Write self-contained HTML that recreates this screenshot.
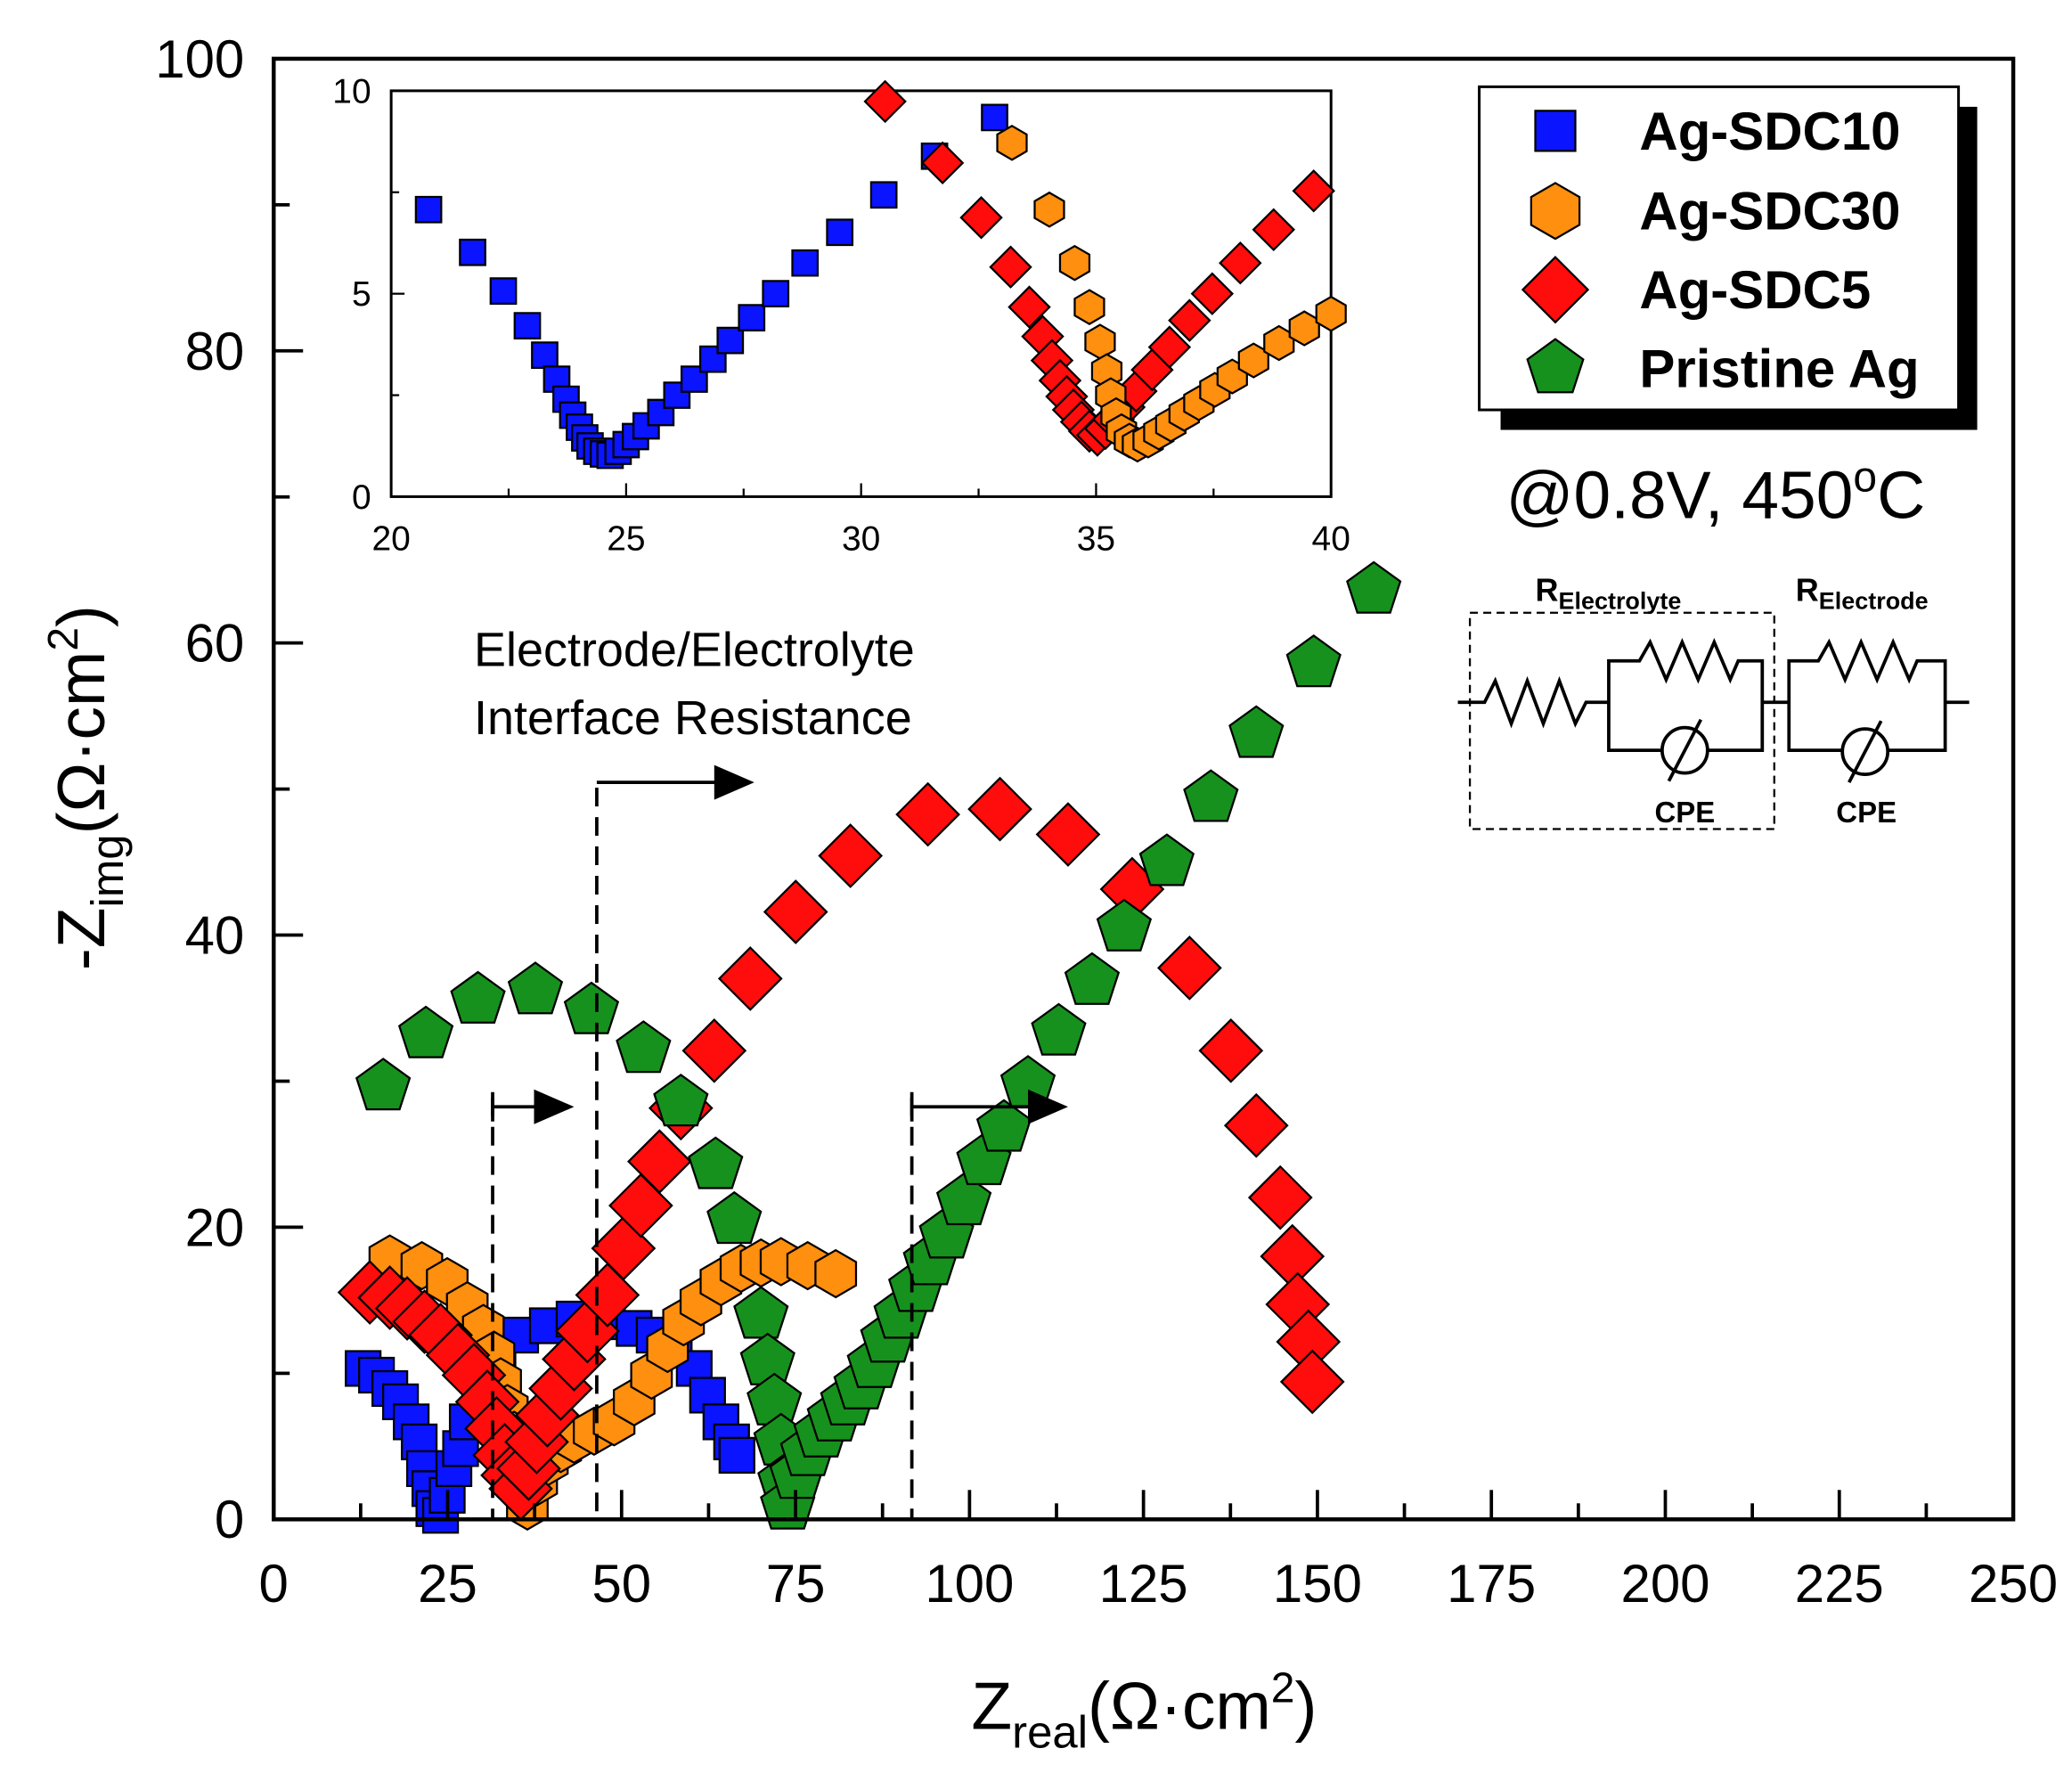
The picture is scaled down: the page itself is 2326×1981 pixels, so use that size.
<!DOCTYPE html>
<html><head><meta charset="utf-8"><style>html,body{margin:0;padding:0;background:#fff}svg{display:block}text{font-family:"Liberation Sans",sans-serif}</style></head>
<body>
<svg id="s" width="2326" height="1981" viewBox="0 0 1552 1322" preserveAspectRatio="none" xmlns="http://www.w3.org/2000/svg">
<rect x="0" y="0" width="1552" height="1322" fill="#fff"/>
<g id="data"></g>
<!-- main axes -->
<rect x="205" y="44" width="1303" height="1094" fill="none" stroke="#000" stroke-width="3"/>
<g id="ticks" stroke="#000" stroke-width="2.5"></g>
<g font-size="40" fill="#000" id="labels"></g>
<text x="857" y="1295" font-size="50" text-anchor="middle">Z<tspan font-size="34" dy="14">real</tspan><tspan dy="-14">(Ω·cm</tspan><tspan font-size="32" dy="-20">2</tspan><tspan dy="20">)</tspan></text>
<text transform="translate(78,590) rotate(-90)" font-size="50" text-anchor="middle">-Z<tspan font-size="34" dy="14">img</tspan><tspan dy="-14">(Ω·cm</tspan><tspan font-size="32" dy="-20">2</tspan><tspan dy="20">)</tspan></text>
<!-- inset -->
<rect x="293" y="68" width="704" height="304" fill="#fff" stroke="#000" stroke-width="2"/>
<g id="inset"></g>
<!-- annotations -->
<text x="355" y="499" font-size="36">Electrode/Electrolyte</text>
<text x="355" y="550" font-size="36">Interface Resistance</text>
<g stroke="#000" stroke-width="2.5" fill="none">
<line x1="447" y1="590" x2="447" y2="1138" stroke-dasharray="14,8"/>
<line x1="369" y1="822" x2="369" y2="1138" stroke-dasharray="14,8"/>
<line x1="683" y1="822" x2="683" y2="1138" stroke-dasharray="14,8"/>
<line x1="447" y1="586" x2="540" y2="586"/>
<line x1="369" y1="829" x2="405" y2="829"/>
<line x1="683" y1="829" x2="775" y2="829"/>
<line x1="369" y1="818" x2="369" y2="840"/>
<line x1="683" y1="818" x2="683" y2="840"/>
</g>
<polygon points="535,573 565,586 535,599" fill="#000"/>
<polygon points="400,816 430,829 400,842" fill="#000"/>
<polygon points="770,816 800,829 770,842" fill="#000"/>
<!-- legend -->
<rect x="1124" y="80" width="357" height="242" fill="#000"/>
<rect x="1108" y="65" width="359" height="242" fill="#fff" stroke="#000" stroke-width="2"/>
<g id="leg"></g>
<g font-size="40" font-weight="bold">
<text x="1228" y="112">Ag-SDC10</text>
<text x="1228" y="172">Ag-SDC30</text>
<text x="1228" y="231">Ag-SDC5</text>
<text x="1228" y="290">Pristine Ag</text>
</g>
<text x="1285" y="388" font-size="50" text-anchor="middle">@0.8V, 450<tspan font-size="32" dy="-20">o</tspan><tspan dy="20">C</tspan></text>
<!-- circuit -->
<g stroke="#000" stroke-width="2.5" fill="none">
<rect x="1101" y="459" width="228" height="162" stroke-dasharray="6,4" stroke-width="1.5"/>
<polyline points="1092,526 1112,526 1120,510 1132,542 1144,510 1156,542 1168,510 1180,542 1188,526 1205,526"/>
<polyline points="1205,526 1205,495 1228,495 1236,481 1248,509 1260,481 1272,509 1284,481 1296,509 1302,495 1320,495 1320,562 1205,562 1205,526"/>
<line x1="1320" y1="526" x2="1340" y2="526"/>
<polyline points="1340,526 1340,495 1362,495 1370,481 1382,509 1394,481 1406,509 1418,481 1430,509 1436,495 1457,495 1457,562 1340,562 1340,526"/>
<line x1="1457" y1="526" x2="1475" y2="526"/>
<circle cx="1262" cy="562" r="17" fill="#fff"/>
<line x1="1250" y1="585" x2="1274" y2="539"/>
<circle cx="1397" cy="563" r="17" fill="#fff"/>
<line x1="1385" y1="586" x2="1409" y2="540"/>
</g>
<g font-weight="bold" font-size="24">
<text x="1150" y="450">R<tspan font-size="18" dy="6">Electrolyte</tspan></text>
<text x="1345" y="450">R<tspan font-size="18" dy="6">Electrode</tspan></text>
<text x="1262" y="616" text-anchor="middle" font-size="22">CPE</text>
<text x="1398" y="616" text-anchor="middle" font-size="22">CPE</text>
</g>
</svg>
<script>
const NS="http://www.w3.org/2000/svg";
function el(p,t,a){const e=document.createElementNS(NS,t);for(const k in a)e.setAttribute(k,a[k]);p.appendChild(e);return e;}
const C={b:"#0a14ff",o:"#ff8f0f",r:"#ff0d0d",g:"#17911d"};
function poly(n,r,rot){let p=[];for(let i=0;i<n;i++){const a=rot+i*2*Math.PI/n;p.push([r*Math.cos(a),r*Math.sin(a)]);}return p;}
function marker(g,type,x,y,s){
 let pts;
 if(type=="b")pts=[[-s/2,-s/2],[s/2,-s/2],[s/2,s/2],[-s/2,s/2]];
 else if(type=="r")pts=poly(4,s*0.58,-Math.PI/2);
 else if(type=="o")pts=poly(6,s*0.55,-Math.PI/2);
 else pts=poly(5,s*0.55,-Math.PI/2);
 el(g,"polygon",{points:pts.map(p=>(x+p[0]).toFixed(1)+","+(y+p[1]).toFixed(1)).join(" "),fill:C[type],stroke:"#000","stroke-width":1.5});
}
const D=document.getElementById("data");
const blue=[[272,1025],[282,1030],[292,1040],[300,1050],[308,1065],[314,1080],[318,1100],[322,1115],[325,1130],[330,1135],[335,1120],[340,1100],[345,1085],[350,1065],[360,1040],[373,1015],[390,1000],[410,993],[430,988],[455,990],[475,995],[490,1000],[505,1010],[520,1025],[530,1045],[540,1065],[548,1080],[552,1090]];
const orange=[[292,943],[316,948],[335,960],[350,978],[362,995],[370,1015],[375,1035],[380,1055],[385,1075],[390,1095],[393,1115],[395,1128],[402,1110],[410,1095],[420,1085],[430,1078],[445,1072],[460,1065],[475,1050],[488,1030],[500,1010],[512,990],[525,975],[540,960],[555,950],[570,946],[585,945],[605,948],[626,954]];
const red=[[277,968],[292,972],[305,980],[318,990],[330,1000],[343,1015],[355,1030],[365,1050],[372,1070],[378,1090],[384,1105],[390,1115],[396,1100],[402,1080],[410,1060],[420,1040],[430,1018],[440,997],[455,970],[467,935],[480,903],[494,870],[510,830],[535,787],[562,733],[596,683],[637,641],[695,610],[749,606],[800,625],[848,666],[891,725],[922,787],[941,843],[959,897],[968,941],[972,977],[980,1005],[983,1035]];
const green=[[287,814],[319,775],[358,749],[401,742],[443,757],[482,786],[510,826],[536,873],[550,914],[570,985],[575,1020],[580,1050],[585,1080],[588,1110],[590,1128],[597,1105],[605,1088],[615,1074],[625,1062],[635,1050],[645,1038],[655,1022],[665,1003],[675,985],[686,965],[697,945],[709,925],[722,900],[737,870],[752,845],[770,812],[793,773],[818,735],[842,695],[874,646],[907,598],[941,550],[984,497],[1029,442]];
blue.forEach(p=>marker(D,"b",p[0],p[1],26));
orange.forEach(p=>marker(D,"o",p[0],p[1],32));
red.forEach(p=>marker(D,"r",p[0],p[1],40));
green.forEach(p=>marker(D,"g",p[0],p[1],38));
// ticks
const T=document.getElementById("ticks"),L=document.getElementById("labels");
for(let v=0;v<=250;v+=12.5){const x=205+v*5.212;const maj=v%25==0;el(T,"line",{x1:x,y1:1138,x2:x,y2:1138-(maj?22:12)});
 if(maj){const t=el(L,"text",{x:x,y:1200,"text-anchor":"middle"});t.textContent=v;}}
for(let v=0;v<=100;v+=10){const y=1138-v*10.94;const maj=v%20==0;el(T,"line",{x1:205,y1:y,x2:205+(maj?22:12),y2:y});
 if(maj){const t=el(L,"text",{x:183,y:y+14,"text-anchor":"end"});t.textContent=v;}}
// inset
const I=document.getElementById("inset");
const ib=[[321,157],[354,189],[377,218],[395,244],[408,266],[417,284],[424,299],[429,311],[434,320],[438,328],[442,334],[447,338],[452,340],[457,341],[463,338],[469,333],[476,327],[484,319],[495,309],[507,296],[520,284],[534,269],[547,255],[563,238],[581,220],[603,197],[629,174],[662,146],[700,117],[745,88]];
const ir=[[663,76],[706,122],[735,163],[757,200],[771,230],[781,252],[788,270],[794,285],[799,297],[804,307],[810,316],[816,323],[822,326],[828,321],[834,314],[842,305],[851,293],[863,277],[876,260],[891,240],[908,220],[929,197],[954,172],[984,143]];
const io=[[758,107],[786,157],[805,197],[816,230],[824,256],[829,278],[832,296],[836,311],[840,323],[846,330],[852,333],[860,330],[868,324],[877,318],[887,310],[898,302],[910,292],[923,282],[939,270],[958,257],[977,246],[997,235]];
const cp=el(I,"clipPath",{id:"ic"});el(cp,"rect",{x:293,y:60,width:716,height:312});
const IG=el(I,"g",{"clip-path":"url(#ic)"});
ib.forEach(p=>marker(IG,"b",p[0],p[1],19));
ir.forEach(p=>marker(IG,"r",p[0],p[1],26));
io.forEach(p=>marker(IG,"o",p[0],p[1],23));
for(let v=20;v<=40;v+=2.5){const x=293+(v-20)*35.2;const maj=v%5==0;el(I,"line",{x1:x,y1:372,x2:x,y2:372-(maj?10:6),stroke:"#000","stroke-width":1.5});
 if(maj){const t=el(I,"text",{x:x,y:412,"text-anchor":"middle","font-size":26});t.textContent=v;}}
for(let v=0;v<=10;v+=2.5){const y=372-v*30.4;const maj=v%5==0;el(I,"line",{x1:293,y1:y,x2:293+(maj?10:6),y2:y,stroke:"#000","stroke-width":1.5});
 if(maj){const t=el(I,"text",{x:278,y:y+9,"text-anchor":"end","font-size":26});t.textContent=v;}}
// legend markers
const G=document.getElementById("leg");
marker(G,"b",1165,98,30);marker(G,"o",1165,158,38);marker(G,"r",1165,217,42);marker(G,"g",1165,276,40);
</script>
</body></html>
